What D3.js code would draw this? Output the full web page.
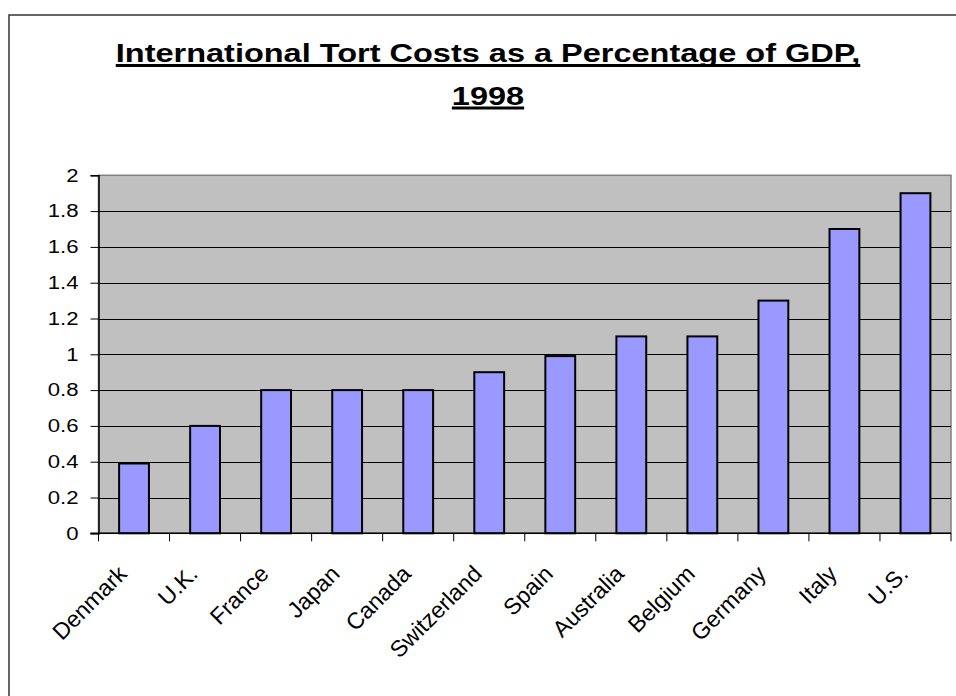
<!DOCTYPE html>
<html>
<head>
<meta charset="utf-8">
<script src="https://cdn.jsdelivr.net/npm/d3@7/dist/d3.min.js"></script>
<style>
  html, body { margin: 0; padding: 0; background: #ffffff; }
  svg { display: block; font-family: Arial, "Liberation Sans", sans-serif; }
</style>
</head>
<body>
<svg id="chart" width="956" height="696"></svg>
<script>
// Tort costs as a share of GDP, 1998
const countries = ["Denmark", "U.K.", "France", "Japan", "Canada", "Switzerland",
                   "Spain", "Australia", "Belgium", "Germany", "Italy", "U.S."];
const tortCostPct = [0.39, 0.6, 0.8, 0.8, 0.8, 0.9, 0.99, 1.1, 1.1, 1.3, 1.7, 1.9];
const yTickValues = [0, 0.2, 0.4, 0.6, 0.8, 1, 1.2, 1.4, 1.6, 1.8, 2];
const yTickLabels = ["0", "0.2", "0.4", "0.6", "0.8", "1", "1.2", "1.4", "1.6", "1.8", "2"];
const titleLines = ["International Tort Costs as a Percentage of GDP,", "1998"];

// horizontal lettering is set wide: glyphs are stretched along x
const stretch = 1.23;

const svg = d3.select("#chart");

// outer chart frame (right and bottom edges fall outside the view)
svg.append("rect")
  .attr("x", 9).attr("y", 15)
  .attr("width", 960).attr("height", 700)
  .attr("fill", "#ffffff")
  .attr("stroke", "#333333").attr("stroke-width", 1.5);

const plot = { left: 98.5, right: 951, top: 175.3, bottom: 533.3 };

const x = d3.scaleBand()
  .domain(countries)
  .range([plot.left, plot.right])
  .paddingInner(0).paddingOuter(0);

const y = d3.scaleLinear()
  .domain([0, 2])
  .range([plot.bottom, plot.top]);

// plot background
svg.append("rect")
  .attr("x", plot.left).attr("y", plot.top)
  .attr("width", plot.right - plot.left)
  .attr("height", plot.bottom - plot.top)
  .attr("fill", "#c0c0c0")
  .attr("stroke", "#808080").attr("stroke-width", 1.5);

// horizontal gridlines
svg.append("g")
  .selectAll("line")
  .data(yTickValues.filter(v => v > 0 && v < 2))
  .join("line")
  .attr("x1", plot.left).attr("x2", plot.right)
  .attr("y1", d => Math.round(y(d)) + 0.5).attr("y2", d => Math.round(y(d)) + 0.5)
  .attr("stroke", "#000000").attr("stroke-width", 1);

// bars
const barFrac = 0.42;
svg.append("g")
  .selectAll("rect")
  .data(countries.map((c, i) => ({ c, v: tortCostPct[i] })))
  .join("rect")
  .attr("x", d => x(d.c) + x.bandwidth() * (1 - barFrac) / 2)
  .attr("width", x.bandwidth() * barFrac)
  .attr("y", d => y(d.v))
  .attr("height", d => y(0) - y(d.v))
  .attr("fill", "#9999ff")
  .attr("stroke", "#000000").attr("stroke-width", 2);

// y axis
const yAxis = d3.axisLeft(y)
  .tickValues(yTickValues)
  .tickFormat((d, i) => yTickLabels[i])
  .tickSize(8)
  .tickPadding(12);

const yg = svg.append("g")
  .attr("transform", `translate(${plot.left},0)`)
  .call(yAxis);
yg.select(".domain").attr("stroke", "#000000").attr("stroke-width", 1.5);
yg.selectAll(".tick line").attr("stroke", "#000000");
yg.selectAll(".tick text")
  .attr("x", 0)
  .attr("transform", `translate(-20,0) scale(${stretch},1)`)
  .attr("font-size", 18)
  .attr("font-family", "Arial, 'Liberation Sans', sans-serif")
  .attr("fill", "#000000");

// x axis: tick marks sit on category boundaries
const boundaries = countries.map(c => x(c)).concat([plot.right]);
svg.append("line")
  .attr("x1", plot.left - 8).attr("x2", plot.right)
  .attr("y1", y(0)).attr("y2", y(0))
  .attr("stroke", "#000000").attr("stroke-width", 1.5);
svg.append("g")
  .selectAll("line")
  .data(boundaries)
  .join("line")
  .attr("x1", d => d).attr("x2", d => d)
  .attr("y1", y(0)).attr("y2", y(0) + 8)
  .attr("stroke", "#000000").attr("stroke-width", 1);

// rotated category labels
svg.append("g")
  .selectAll("text")
  .data(countries)
  .join("text")
  .attr("transform", d =>
    `translate(${x(d) + x.bandwidth() / 2 - 6},${y(0) + 42}) rotate(-45)`)
  .attr("text-anchor", "end")
  .attr("font-size", 23)
  .attr("fill", "#000000")
  .text(d => d);

// title with underline
const titleX = 488;
const titleY = [62, 104.5];
titleLines.forEach((line, i) => {
  const g = svg.append("g")
    .attr("transform", `translate(${titleX},${titleY[i]}) scale(1.25,1)`);
  const t = g.append("text")
    .attr("x", 0).attr("y", 0)
    .attr("text-anchor", "middle")
    .attr("font-size", 26)
    .attr("font-weight", "bold")
    .attr("fill", "#000000")
    .text(line);
  const w = t.node().getComputedTextLength();
  g.append("line")
    .attr("x1", -w / 2).attr("x2", w / 2)
    .attr("y1", 3.5).attr("y2", 3.5)
    .attr("stroke", "#000000").attr("stroke-width", 3);
});
</script>
</body>
</html>
